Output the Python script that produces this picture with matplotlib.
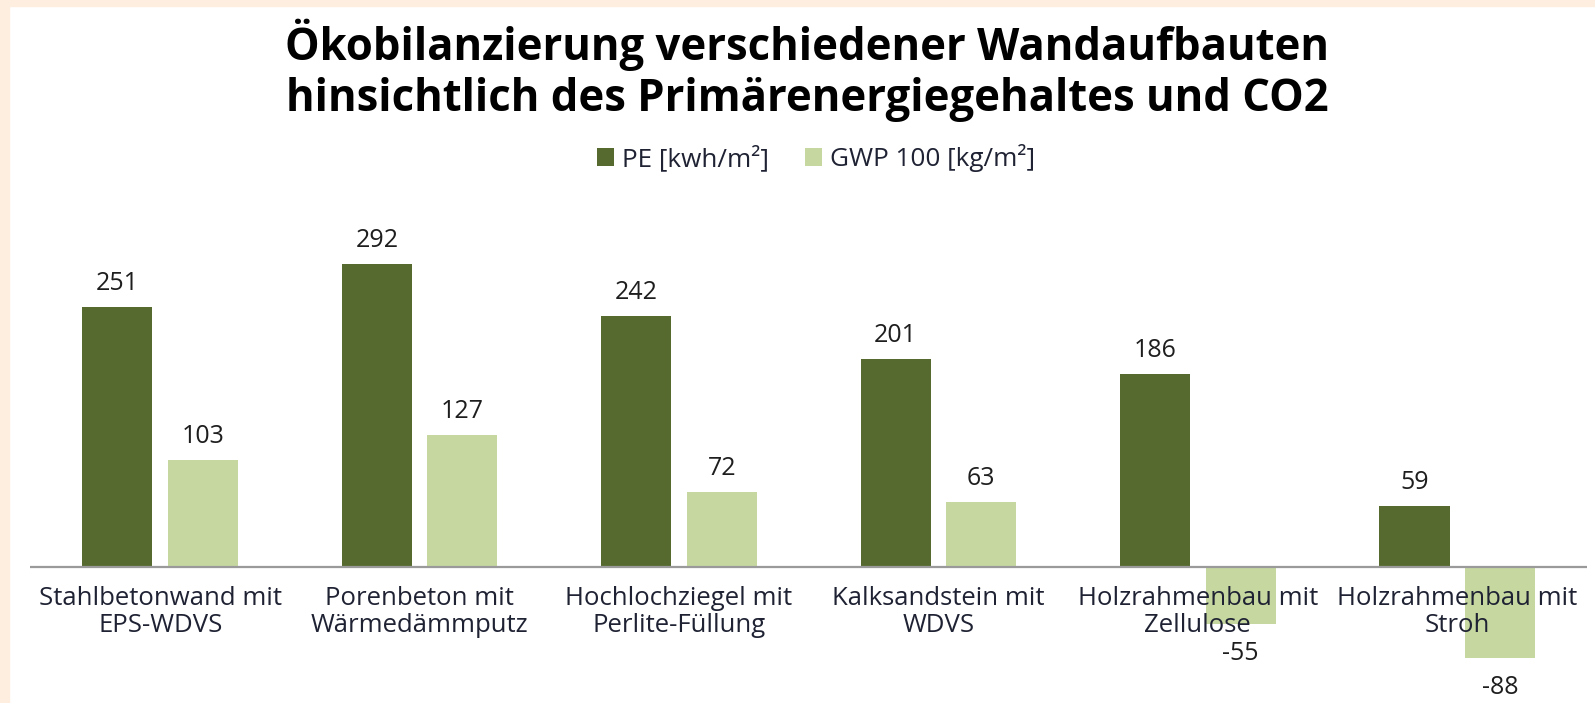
import matplotlib
matplotlib.use("Agg")
import matplotlib.pyplot as plt
from matplotlib.patches import Rectangle
import numpy as np

# Daten
categories = [
    "Stahlbetonwand mit\nEPS-WDVS",
    "Porenbeton mit\nWärmedämmputz",
    "Hochlochziegel mit\nPerlite-Füllung",
    "Kalksandstein mit\nWDVS",
    "Holzrahmenbau mit\nZellulose",
    "Holzrahmenbau mit\nStroh",
]
pe_values = [251, 292, 242, 201, 186, 59]
gwp_values = [103, 127, 72, 63, -55, -88]
series_names = ["PE [kwh/m²]", "GWP 100 [kg/m²]"]

title = "Ökobilanzierung verschiedener Wandaufbauten\nhinsichtlich des Primärenergiegehaltes und CO2"

dark = "#566a2f"
light = "#c6d8a0"

plt.rcParams["font.family"] = ["Open Sans", "DejaVu Sans"]

W, H = 1595, 703
fig = plt.figure(figsize=(W / 100, H / 100), dpi=100, facecolor="white")

# peach frame (left and top only)
fig.patches.append(Rectangle((0, 0), 9 / W, 1, transform=fig.transFigure,
                             color="#fdeee0", zorder=0))
fig.patches.append(Rectangle((0, 1 - 6 / H), 1, 6 / H, transform=fig.transFigure,
                             color="#fdeee0", zorder=0))

# axes placement (pixel measures from reference)
x0, x1 = 30.5, 1587
y_base, ppu = 567, 1.036
ymin, ymax = -130, 320
top_px = y_base - ymax * ppu
bot_px = y_base - ymin * ppu
ax = fig.add_axes([x0 / W, (H - bot_px) / H, (x1 - x0) / W, (bot_px - top_px) / H])
ax.set_facecolor("none")

x = np.arange(len(categories))
bw = 0.27
off = 0.165
b1 = ax.bar(x - off, pe_values, bw, color=dark, label=series_names[0])
b2 = ax.bar(x + off, gwp_values, bw, color=light, label=series_names[1])

ax.set_xlim(-0.5, len(categories) - 0.5)
ax.set_ylim(ymin, ymax)
ax.axhline(0, color="#9a9a9a", lw=1.6, zorder=3)
for s in ax.spines.values():
    s.set_visible(False)
ax.set_xticks([])
ax.set_yticks([])

# value labels
for bars, vals in [(b1, pe_values), (b2, gwp_values)]:
    for rect, v in zip(bars, vals):
        cx = rect.get_x() + rect.get_width() / 2
        dy = 17 if v >= 0 else -21
        ax.annotate(str(v), (cx, v), xytext=(0, dy), textcoords="offset points",
                    ha="center", va="center", fontsize=18, color="#1e1e1e",
                    annotation_clip=False)

# category labels
for i, lab in enumerate(categories):
    ax.annotate(lab, (i, 0), xytext=(0, -32.5), textcoords="offset points",
                ha="center", va="center", fontsize=18.5, color="#1f2233",
                linespacing=1.1, zorder=5, annotation_clip=False)

fig.text(807 / W, 1 - 70 / H, title, ha="center", va="center",
         fontsize=31.4, fontweight="bold", color="black", linespacing=1.18)

fig.legend(handles=[b1, b2], loc="center", bbox_to_anchor=(816 / W, 1 - 158 / H),
           ncol=2, frameon=False, fontsize=18.8, handlelength=0.65,
           handleheight=0.65, handletextpad=0.3, columnspacing=1.4,
           labelcolor="#1f2233")

fig.savefig("out.png", dpi=100, facecolor="white")
